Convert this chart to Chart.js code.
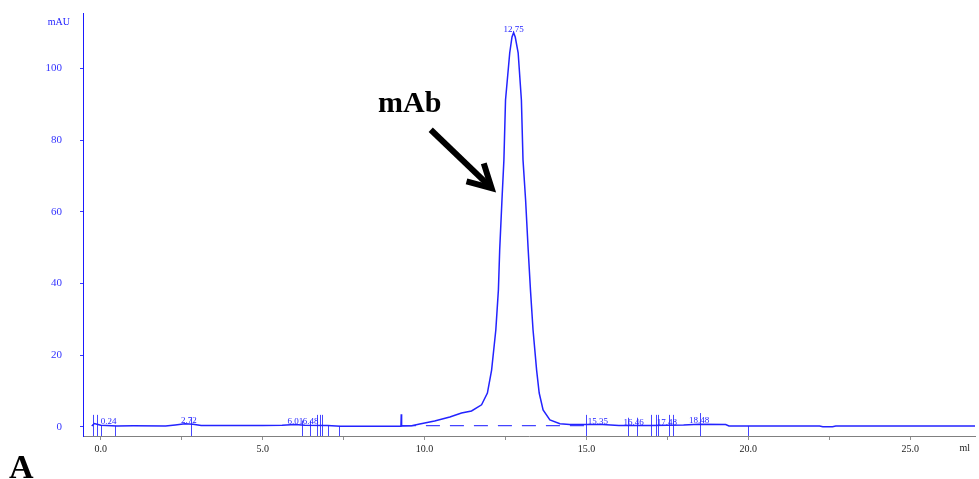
<!DOCTYPE html>
<html>
<head>
<meta charset="utf-8">
<script src="https://cdn.jsdelivr.net/npm/chart.js@4.4.1/dist/chart.umd.min.js"></script>
<style>
  html, body { margin: 0; padding: 0; background: #fff; }
  canvas { display: block; }
</style>
</head>
<body>
<canvas id="chromatogram" width="979" height="479"></canvas>
<script>
// detector trace, elution volume (ml) vs absorbance (mAU)
const elutionMl = [-0.28, -0.2, 0.0, 0.5, 1.0, 2.0, 2.3, 2.6, 2.85, 3.1, 4.0, 5.0, 5.6, 6.0, 6.3, 7.0, 7.4, 8.0,
  9.27, 9.28, 9.29, 9.6, 9.85, 10.31, 10.78, 11.14, 11.45, 11.76, 11.94, 12.07, 12.20, 12.28, 12.32, 12.39,
  12.45, 12.50, 12.63, 12.70, 12.75, 12.80, 12.89, 12.99, 13.04, 13.12, 13.20, 13.27, 13.35, 13.46, 13.54, 13.66, 13.87,
  14.18, 14.48, 15.0, 15.5, 16.0, 17.0, 18.0, 18.48, 19.3, 19.4, 22.2, 22.3, 22.6, 22.7, 27.0];
const absorbance = [0.2, 0.9, 0.4, 0.2, 0.25, 0.2, 0.5, 0.8, 0.7, 0.3, 0.3, 0.3, 0.4, 0.6, 0.4, 0.3, 0.1, 0.1,
  0.15, 3.5, 0.2, 0.25, 0.75, 1.6, 2.7, 3.8, 4.4, 6.1, 9.4, 15.8, 27.0, 38.2, 49.4, 63.3,
  74.5, 91.2, 104.4, 108.8, 110.0, 108.8, 104.4, 91.2, 74.5, 63.3, 49.4, 38.2, 27.0, 15.8, 9.4, 4.7, 1.9,
  0.8, 0.6, 0.6, 0.6, 0.3, 0.3, 0.5, 0.7, 0.6, 0.2, 0.2, 0.0, 0.0, 0.2, 0.2];

// integration baseline under the main peak
const baselineMl = [9.3, 14.98];
const baselineAu = [0.3, 0.3];

// peak tables: retention times and label levels
const peakTimes = [0.24, 2.72, 6.01, 6.48, 12.75, 15.35, 16.46, 17.48, 18.48];
const peakNames = ['0.24', '2.72', '6.01', '6.48', '12.75', '15.35', '16.46', '17.48', '18.48'];
const peakHeights = [0.4, 0.7, 0.5, 0.4, 110.0, 0.6, 0.3, 0.3, 0.7];

// integration event marks
const eventMl = [-0.24, -0.13, 0.0, 0.43, 2.80, 6.20, 6.45, 6.69, 6.76, 6.83, 7.02, 7.35,
  14.98, 16.28, 16.57, 17.0, 17.16, 17.21, 17.55, 17.67, 18.51, 19.99];
const eventTop = [3.3, 3.3, 0.2, 0.2, 2.4, 1.7, 1.7, 3.3, 3.3, 3.3, 0.2, 0.2,
  3.3, 2.5, 2.5, 3.3, 3.3, 3.3, 3.3, 3.3, 3.8, 0.2];

const yTicks = [0, 20, 40, 60, 80, 100];
const xTicks = [0, 2.5, 5, 7.5, 10, 12.5, 15, 17.5, 20, 22.5, 25];

const BLUE = '#2222ff';
const SERIF = '"Liberation Serif", "Times New Roman", serif';

const traceData = elutionMl.map((v, i) => ({ x: v, y: absorbance[i] }));
const baselineData = baselineMl.map((v, i) => ({ x: v, y: baselineAu[i] }));

const annotate = {
  id: 'annotate',
  beforeDatasetsDraw(chart) {
    const { ctx, scales: { x, y } } = chart;
    ctx.save();
    ctx.strokeStyle = '#4646ff';
    ctx.lineWidth = 1;
    eventMl.forEach((ml, i) => {
      const px = Math.round(x.getPixelForValue(ml)) + 0.5;
      ctx.beginPath();
      ctx.moveTo(px, y.getPixelForValue(eventTop[i]));
      ctx.lineTo(px, y.getPixelForValue(y.min));
      ctx.stroke();
    });
    ctx.restore();
  },
  afterDatasetsDraw(chart) {
    const { ctx, chartArea, scales: { x, y } } = chart;
    ctx.save();

    // peak retention labels
    ctx.fillStyle = BLUE;
    ctx.font = '9px ' + SERIF;
    ctx.textAlign = 'center';
    ctx.textBaseline = 'alphabetic';
    peakTimes.forEach((t, i) => {
      ctx.fillText(peakNames[i], x.getPixelForValue(t), y.getPixelForValue(peakHeights[i]) - 1);
    });

    // unit labels
    ctx.font = '10px ' + SERIF;
    ctx.textAlign = 'right';
    ctx.fillText('mAU', chartArea.left - 13, 25);
    ctx.fillStyle = '#222';
    ctx.fillText('ml', chartArea.right - 5, 451);

    // peak annotation
    ctx.fillStyle = '#000';
    ctx.font = 'bold 30px ' + SERIF;
    ctx.textAlign = 'center';
    ctx.fillText('mAb', x.getPixelForValue(9.54), y.getPixelForValue(87.8));

    const x0 = x.getPixelForValue(10.19), y0 = y.getPixelForValue(82.9);
    const x1 = x.getPixelForValue(12.07), y1 = y.getPixelForValue(66.6);
    const ang = Math.atan2(y1 - y0, x1 - x0);
    const head = 26, spread = 0.5;
    ctx.strokeStyle = '#000';
    ctx.lineWidth = 6;
    ctx.lineJoin = 'miter';
    ctx.beginPath();
    ctx.moveTo(x0, y0);
    ctx.lineTo(x1 - 4 * Math.cos(ang), y1 - 4 * Math.sin(ang));
    ctx.stroke();
    ctx.beginPath();
    ctx.moveTo(x1 - head * Math.cos(ang - spread), y1 - head * Math.sin(ang - spread));
    ctx.lineTo(x1, y1);
    ctx.lineTo(x1 - head * Math.cos(ang + spread), y1 - head * Math.sin(ang + spread));
    ctx.stroke();

    // panel letter
    ctx.font = 'bold 34px ' + SERIF;
    ctx.textAlign = 'left';
    ctx.fillText('A', 9, 478);
    ctx.restore();
  }
};

new Chart(document.getElementById('chromatogram'), {
  type: 'line',
  data: {
    datasets: [
      {
        data: traceData,
        borderColor: 'rgb(35,35,255)',
        borderWidth: 1.5,
        pointRadius: 0,
        tension: 0,
        order: 1
      },
      {
        data: baselineData,
        borderColor: '#4444ff',
        borderWidth: 1.4,
        borderDash: [14, 10],
        pointRadius: 0,
        order: 2
      }
    ]
  },
  options: {
    responsive: false,
    animation: false,
    layout: { padding: { top: 13, right: 4, left: 0, bottom: 0 } },
    plugins: { legend: { display: false }, tooltip: { enabled: false } },
    scales: {
      x: {
        type: 'linear',
        min: -0.55,
        max: 27.0,
        afterFit: (scale) => {
          scale.height = 43;
          scale.paddingLeft = 0;
          scale.paddingRight = 0;
        },
        afterBuildTicks: (scale) => { scale.ticks = xTicks.map(v => ({ value: v })); },
        border: { color: '#808080', width: 1 },
        grid: { drawOnChartArea: false, drawTicks: true, tickLength: 4, color: '#909090', tickColor: '#909090' },
        ticks: {
          autoSkip: false,
          maxRotation: 0,
          padding: 3,
          color: '#222',
          font: { family: SERIF, size: 10 },
          callback: (v) => (v % 5 === 0 ? Number(v).toFixed(1) : '')
        }
      },
      y: {
        min: -2.6,
        max: 115.5,
        afterFit: (scale) => {
          scale.width = 83;
          scale.paddingTop = 0;
          scale.paddingBottom = 0;
        },
        afterBuildTicks: (scale) => { scale.ticks = yTicks.map(v => ({ value: v })); },
        border: { color: '#1a1aff', width: 1 },
        grid: { drawOnChartArea: false, drawTicks: true, tickLength: 3, color: '#3a3aff', tickColor: '#3a3aff' },
        ticks: {
          padding: 18,
          color: '#3333ff',
          font: { family: SERIF, size: 11 }
        }
      }
    }
  },
  plugins: [annotate]
});
</script>
</body>
</html>
